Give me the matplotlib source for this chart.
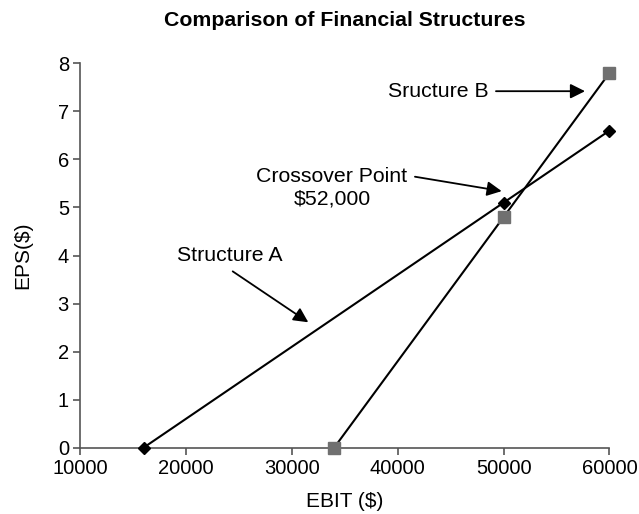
import matplotlib
matplotlib.use("Agg")
import matplotlib.pyplot as plt

plt.rcParams['font.family'] = ['Liberation Sans', 'DejaVu Sans']

# EBIT levels and EPS for each financing structure
ebit_a = [16000, 50000, 60000]
eps_a = [0.0, 5.1, 6.6]
ebit_b = [34000, 50000, 60000]
eps_b = [0.0, 4.8, 7.8]

x_ticks = [10000, 20000, 30000, 40000, 50000, 60000]
y_ticks = [0, 1, 2, 3, 4, 5, 6, 7, 8]

fig = plt.figure(figsize=(6.39, 5.14), dpi=100)
ax = fig.add_axes([0.1252, 0.129, 0.8286, 0.7478])

ax.plot(ebit_a, eps_a, color='black', lw=1.5, marker='D', markersize=6.5,
        markerfacecolor='black', markeredgecolor='black', clip_on=False, zorder=3)
ax.plot(ebit_b, eps_b, color='black', lw=1.5, marker='s', markersize=9,
        markerfacecolor='#707070', markeredgecolor='#707070', clip_on=False, zorder=3)

ax.set_xlim(10000, 60000)
ax.set_ylim(0, 8)
ax.set_xticks(x_ticks)
ax.set_yticks(y_ticks)
ax.set_xticklabels([str(v) for v in x_ticks])
ax.set_yticklabels([str(v) for v in y_ticks])

for s in ['top', 'right']:
    ax.spines[s].set_visible(False)
for s in ['left', 'bottom']:
    ax.spines[s].set_color('#555555')
    ax.spines[s].set_linewidth(1.2)
ax.tick_params(direction='out', length=5, width=1.2, color='#555555',
               labelsize=14.5, pad=3)

ax.set_xlabel('EBIT ($)', fontsize=15, labelpad=10)
ax.set_ylabel('EPS($)', fontsize=15, labelpad=18)

# title centred over the plotting area
ax_box = ax.get_position()
fig.text((ax_box.x0 + ax_box.x1) / 2, 1 - 21 / 514,
         'Comparison of Financial Structures',
         ha='center', va='center', fontsize=15.3, fontweight='bold')

arrow = dict(arrowstyle='-|>', color='black', lw=1.3, mutation_scale=22,
             shrinkA=0, shrinkB=0)
label_size = 15.3

# Structure B label and arrow
ax.text(48560, 7.42, 'Sructure B', ha='right', va='center', fontsize=label_size)
ax.annotate('', xy=(57690, 7.42), xytext=(49280, 7.42), arrowprops=arrow)

# Crossover label and arrow
ax.text(33800, 5.64, 'Crossover Point', ha='center', va='center',
        fontsize=label_size)
ax.text(33800, 5.18, '$52,000', ha='center', va='center', fontsize=label_size)
ax.annotate('', xy=(49820, 5.34), xytext=(41630, 5.64), arrowprops=arrow)

# Structure A label and arrow
ax.text(24100, 4.0, 'Structure A', ha='center', va='center', fontsize=label_size)
ax.annotate('', xy=(31560, 2.61), xytext=(24420, 3.67), arrowprops=arrow)

fig.savefig('out.png', dpi=100)
